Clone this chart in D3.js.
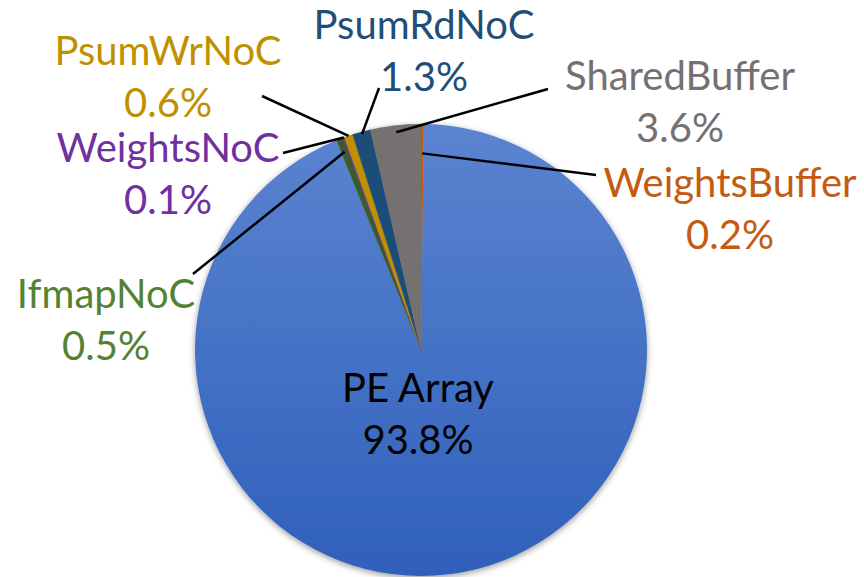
<!DOCTYPE html>
<html>
<head>
<meta charset="utf-8">
<script src="https://cdn.jsdelivr.net/npm/d3@7"></script>
<style>
  html, body { margin: 0; padding: 0; background: #ffffff; }
  svg { display: block; }
</style>
</head>
<body>
<svg id="chart" width="864" height="577"></svg>
<script>
// ---- data ----
const categories = ["WeightsBuffer", "PE Array", "IfmapNoC", "WeightsNoC", "PsumWrNoC", "PsumRdNoC", "SharedBuffer"];
const values = [0.2, 93.8, 0.5, 0.1, 0.6, 1.3, 3.6];
const valueLabels = ["0.2%", "93.8%", "0.5%", "0.1%", "0.6%", "1.3%", "3.6%"];

// ---- styles / layout ----
const sliceColors = ["#c55a11", "url(#peGrad)", "#3b5b2a", "#7030a0", "#bf9000", "#1f4e79", "#767171"];
const textColors  = ["#c55a11", "#000000", "#548235", "#7030a0", "#bf9000", "#1f4e79", "#767171"];
// label anchor (text center x, first baseline y), leader end point, leader start radius fraction
const labelLayout = [
  { x: 730, y: 197, lx: 596, ly: 175, k: 0.87 },
  { x: 418, y: 402, lx: null, ly: null, k: 0 },
  { x: 106, y: 308, lx: 193, ly: 274, k: 0.94 },
  { x: 168, y: 162, lx: 283, ly: 153, k: 1.0 },
  { x: 168, y: 65,  lx: 262, ly: 96,  k: 1.0 },
  { x: 424, y: 39,  lx: 379, ly: 88,  k: 0.99 },
  { x: 680, y: 90,  lx: 548, ly: 89,  k: 0.97 }
];
const lineGap = 52;
const fontSize = 40;

const svg = d3.select("#chart");
const cx = 421, cy = 350, R = 226;

const defs = svg.append("defs");
const grad = defs.append("linearGradient")
  .attr("id", "peGrad").attr("gradientUnits", "userSpaceOnUse")
  .attr("x1", 0).attr("y1", -R).attr("x2", 0).attr("y2", R);
grad.append("stop").attr("offset", "0%").attr("stop-color", "#5b84d0");
grad.append("stop").attr("offset", "100%").attr("stop-color", "#2f60bb");

const shadow = defs.append("filter").attr("id", "pieShadow")
  .attr("x", "-10%").attr("y", "-10%").attr("width", "120%").attr("height", "120%");
shadow.append("feDropShadow").attr("dx", 0).attr("dy", 2)
  .attr("stdDeviation", 3).attr("flood-color", "#000").attr("flood-opacity", 0.4);

const data = categories.map((c, i) => ({ name: c, value: values[i], label: valueLabels[i], i }));

const pie = d3.pie().sort(null).value(d => d.value).startAngle(0).endAngle(2 * Math.PI);
const arcs = pie(data);
const arc = d3.arc().innerRadius(0).outerRadius(R);

const g = svg.append("g").attr("transform", `translate(${cx},${cy})`);
const pieG = g.append("g").attr("filter", "url(#pieShadow)");
pieG.selectAll("path").data(arcs).enter().append("path")
  .attr("d", arc)
  .attr("fill", d => sliceColors[d.data.i])
  .attr("stroke", d => d.data.i === 1 ? "none" : sliceColors[d.data.i])
  .attr("stroke-width", 0.3);

// leader lines
arcs.forEach(d => {
  const L = labelLayout[d.data.i];
  if (L.lx === null) return;
  const mid = (d.startAngle + d.endAngle) / 2;
  const sx = Math.sin(mid) * R * L.k;
  const sy = -Math.cos(mid) * R * L.k;
  g.append("line")
    .attr("x1", sx).attr("y1", sy)
    .attr("x2", L.lx - cx).attr("y2", L.ly - cy)
    .attr("stroke", "#000").attr("stroke-width", 2.5);
});

// labels
arcs.forEach(d => {
  const L = labelLayout[d.data.i];
  const t = svg.append("text")
    .attr("text-anchor", "middle")
    .attr("font-family", "Lato, 'Open Sans', sans-serif")
    .attr("font-size", fontSize)
    .attr("fill", textColors[d.data.i]);
  t.append("tspan").attr("x", L.x).attr("y", L.y).text(d.data.name);
  t.append("tspan").attr("x", L.x).attr("y", L.y + lineGap).text(d.data.label);
});
</script>
</body>
</html>
